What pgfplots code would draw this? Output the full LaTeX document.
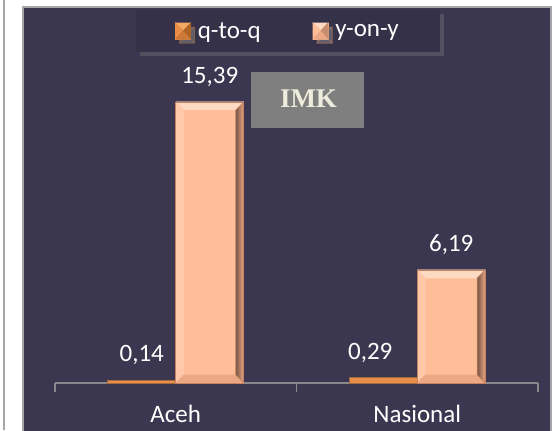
\documentclass[border=0pt]{standalone}
\usepackage{fontspec}
\setmainfont{Carlito}
\newfontfamily\imkfont{Liberation Serif}
\usepackage{pgfplots}
\pgfplotsset{compat=1.18}
\usetikzlibrary{shadows}
\pgfdeclarelayer{background}
\pgfsetlayers{background,main}

\definecolor{panel}{RGB}{59,55,80}
\definecolor{legbg}{RGB}{53,49,73}
\definecolor{framegray}{RGB}{166,166,166}
\definecolor{axisgray}{RGB}{137,137,137}
\definecolor{qq}{RGB}{232,142,72}
\definecolor{qqedge}{RGB}{160,105,62}
\definecolor{qqlight}{RGB}{245,170,100}
\definecolor{qqdark}{RGB}{175,100,40}
\definecolor{qqmid}{RGB}{205,120,55}
\definecolor{yy}{RGB}{255,190,152}
\definecolor{yyedge}{RGB}{196,130,96}
\definecolor{yytop}{RGB}{255,218,194}
\definecolor{yyleft}{RGB}{255,200,168}
\definecolor{yybottom}{RGB}{236,168,132}
\definecolor{yyright}{RGB}{120,86,70}
\definecolor{yymid}{RGB}{200,140,110}
\definecolor{imkgray}{RGB}{127,127,127}
\definecolor{imktext}{RGB}{238,236,220}

\newcommand{\chartfont}{\fontsize{25bp}{30bp}\selectfont}
\def\bv{8bp}

% bevelled face for the y-on-y columns (used on a node that covers the column)
\tikzset{
  bevel/.style={
    path picture={
      \fill[yytop] (path picture bounding box.north west) -- (path picture bounding box.north east)
        -- ([shift={(-\bv,-\bv)}]path picture bounding box.north east)
        -- ([shift={(\bv,-\bv)}]path picture bounding box.north west) -- cycle;
      \fill[yyleft] (path picture bounding box.north west) -- (path picture bounding box.south west)
        -- ([shift={(\bv,\bv)}]path picture bounding box.south west)
        -- ([shift={(\bv,-\bv)}]path picture bounding box.north west) -- cycle;
      \fill[yybottom] (path picture bounding box.south west) -- (path picture bounding box.south east)
        -- ([shift={(-\bv,\bv)}]path picture bounding box.south east)
        -- ([shift={(\bv,\bv)}]path picture bounding box.south west) -- cycle;
      \shade[left color=yyright, right color=yybottom]
        (path picture bounding box.north east) -- (path picture bounding box.south east)
        -- ([shift={(-\bv,\bv)}]path picture bounding box.south east)
        -- ([shift={(-\bv,-\bv)}]path picture bounding box.north east) -- cycle;
    }
  },
}
% small pyramid swatch for the legend: face, top, left, right, bottom
\newcommand{\swatch}[5]{%
  \fill[#1] (0,-8bp) rectangle (15bp,8bp);
  \fill[#2] (0,8bp) -- (15bp,8bp) -- (7.5bp,0) -- cycle;
  \fill[#3] (0,8bp) -- (0,-8bp) -- (7.5bp,0) -- cycle;
  \fill[#4] (15bp,8bp) -- (15bp,-8bp) -- (7.5bp,0) -- cycle;
  \fill[#5] (0,-8bp) -- (15bp,-8bp) -- (7.5bp,0) -- cycle;
}

\begin{document}
\begin{tikzpicture}[x=1bp,y=1bp]
\begin{axis}[
  scale only axis, width=483bp, height=292.2bp,
  xmin=-0.5, xmax=1.5, ymin=0, ymax=16,
  clip=false,
  axis y line=none, axis x line*=bottom,
  axis line style={draw=axisgray, line width=1.2bp},
  xtick={0,1}, xticklabels={Aceh,Nasional},
  major tick length=0pt,
  minor xtick={-0.5,0.5,1.5}, minor tick length=9bp, tick align=outside,
  minor tick style={draw=axisgray, line width=1.2bp},
  xticklabel style={font=\chartfont, text=white, inner sep=0pt, yshift=-22bp},
  ybar=0pt, bar width=68bp,
  /pgf/number format/.cd, use comma, fixed, fixed zerofill, precision=2, assume math mode=true,
  /pgfplots/.cd,
  legend columns=2,
  legend style={
    at={(axis description cs:0.4824,1.2046)}, anchor=center,
    fill=legbg, draw=none, text=white, font=\chartfont,
    inner xsep=39bp, inner ysep=10.5bp,
    drop shadow={opacity=0.35, shadow xshift=4bp, shadow yshift=-4bp},
    /tikz/every odd column/.append style={column sep=5bp},
    /tikz/every even column/.append style={column sep=50bp},
  },
]
\coordinate (O) at (axis cs:-0.5,0);
\addplot[fill=qq, draw=qqedge, line width=0.6bp,
  visualization depends on={x \as \barx},
  nodes near coords,
  every node near coord/.append style={font=\chartfont, text=white, inner sep=0pt,
    anchor=south, yshift=15bp, xshift={-13bp*\barx}},
  legend image code/.code={\swatch{qq}{qqlight}{qq}{qqdark}{qqmid}}]
  coordinates {(0,0.14) (1,0.29)};
\addlegendentry{q-to-q}
% y-on-y: each column carries a bevelled face node of its own height, with the value above it
\addplot[fill=yy, draw=yyedge, line width=0.6bp,
  visualization depends on={y \as \barv},
  nodes near coords={\mbox{}},
  every node near coord/.append style={anchor=north, inner sep=0pt, outer sep=0pt,
    minimum width=68bp, minimum height={\barv*18.2625bp},
    fill=yy, draw=yyedge, line width=0.6bp, bevel,
    label={[font=\chartfont, text=white, inner sep=0pt, yshift=15bp]above:{\pgfmathprintnumber{\barv}}}},
  legend image code/.code={\swatch{yy}{yytop}{yy}{yymid}{yybottom}}]
  coordinates {(0,15.39) (1,6.19)};
\addlegendentry{y-on-y}
\end{axis}

\pgfresetboundingbox
\begin{scope}[shift={(O)}, xshift=-55bp, yshift=-47bp]
  \path[use as bounding box] (0,0) rectangle (554,430);
  \begin{pgfonlayer}{background}
    \fill[white] (0,0) rectangle (554,430);
    \draw[framegray, line width=1.5bp] (4,0) -- (4,430);
    \fill[panel] (23,-5) rectangle (551,423);
    \draw[framegray, line width=2bp] (23,-5) -- (23,423) -- (551,423) -- (551,-5);
  \end{pgfonlayer}
  % title badge
  \node[fill=imkgray, minimum width=113bp, minimum height=56bp, inner sep=0pt] at (307.5,330) {};
  \node[text=imktext, font=\imkfont\bfseries\fontsize{27bp}{30bp}\selectfont] at (308.5,331.5) {IMK};
\end{scope}
\end{tikzpicture}
\end{document}
